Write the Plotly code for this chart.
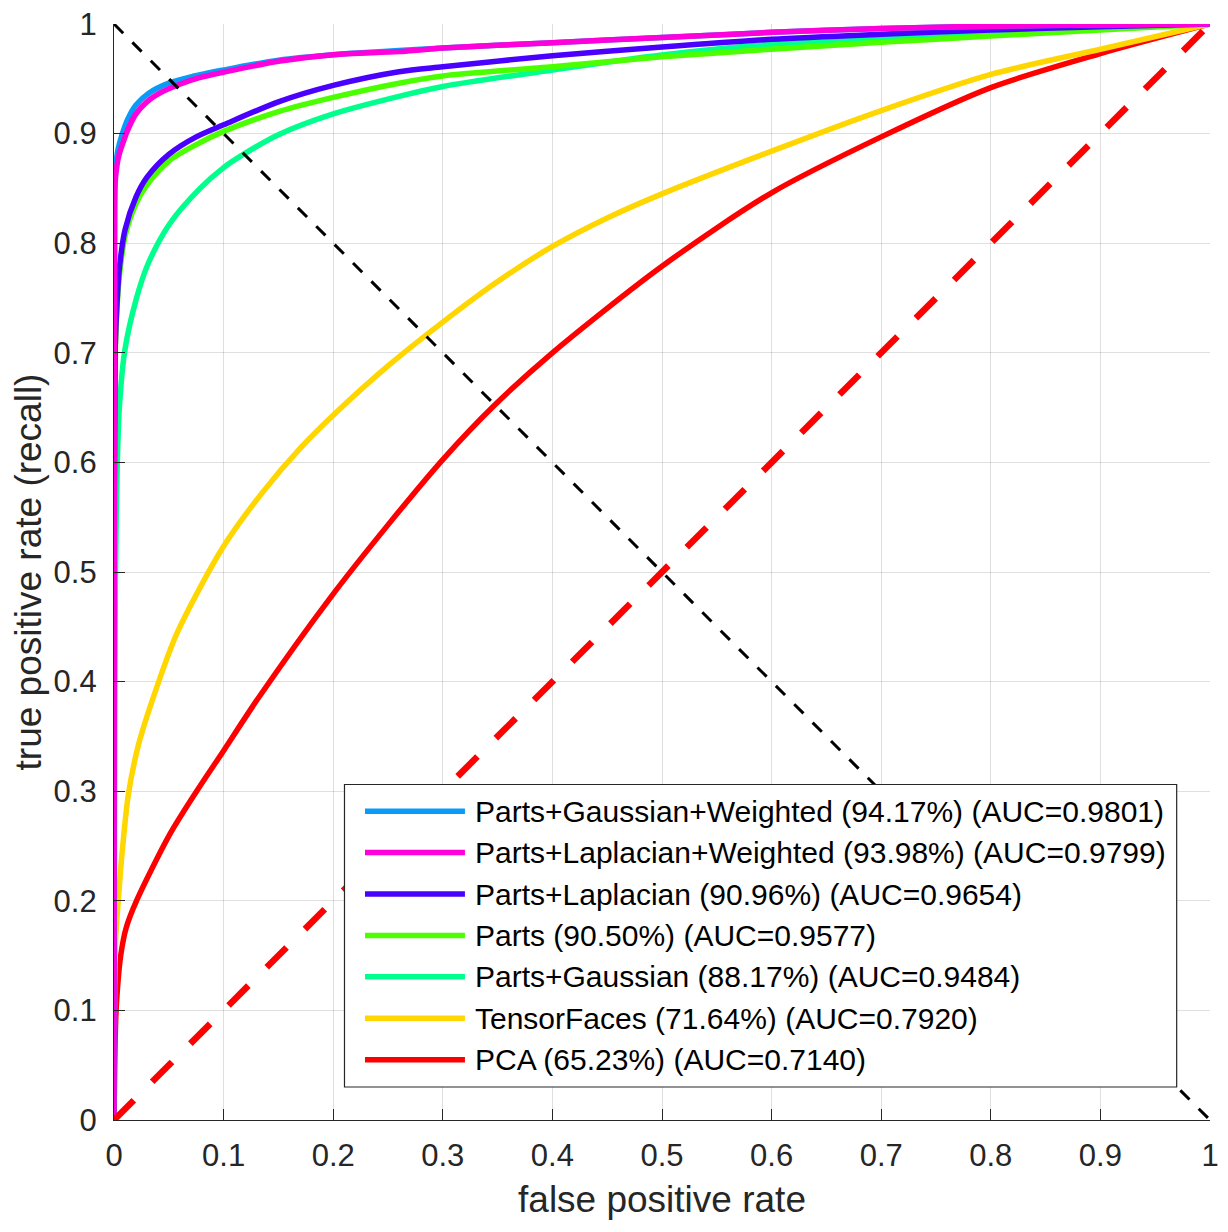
import plotly.graph_objects as go

# ---------------- data ----------------
tick_vals = [0, 0.1, 0.2, 0.3, 0.4, 0.5, 0.6, 0.7, 0.8, 0.9, 1]
tick_text = ["0", "0.1", "0.2", "0.3", "0.4", "0.5", "0.6", "0.7", "0.8", "0.9", "1"]

names = [
    "Parts+Gaussian+Weighted (94.17%) (AUC=0.9801)",
    "Parts+Laplacian+Weighted (93.98%) (AUC=0.9799)",
    "Parts+Laplacian (90.96%) (AUC=0.9654)",
    "Parts (90.50%) (AUC=0.9577)",
    "Parts+Gaussian (88.17%) (AUC=0.9484)",
    "TensorFaces (71.64%) (AUC=0.7920)",
    "PCA (65.23%) (AUC=0.7140)",
]
colors = ["#0A9AF7", "#FF00DC", "#4A00FF", "#4CFF00", "#00FF8C", "#FFD600", "#FF0000"]

fpr_pgw = [0, 0.0002, 0.0005, 0.001, 0.003, 0.005, 0.01, 0.015, 0.02, 0.032, 0.05, 0.071, 0.1, 0.15, 0.2,
           0.3, 0.4, 0.5, 0.6, 0.7, 0.8, 0.9, 1.0]
tpr_pgw = [0, 0.55, 0.82, 0.86, 0.882, 0.891, 0.907, 0.918, 0.926, 0.937, 0.946, 0.952, 0.958, 0.967, 0.972,
           0.978, 0.983, 0.9876, 0.9924, 0.996, 0.998, 0.999, 1.0]

fpr_plw = [0, 0.0002, 0.0005, 0.001, 0.003, 0.005, 0.008, 0.012, 0.02, 0.03, 0.04, 0.06, 0.078, 0.1, 0.15,
           0.2, 0.26, 0.3, 0.4, 0.5, 0.6, 0.7, 0.8, 0.9, 1.0]
tpr_plw = [0, 0.5, 0.8, 0.855, 0.873, 0.882, 0.891, 0.902, 0.918, 0.929, 0.936, 0.945, 0.951, 0.956, 0.966,
           0.972, 0.9748, 0.978, 0.983, 0.9876, 0.9924, 0.996, 0.998, 0.999, 1.0]

fpr_pl = [0, 0.0003, 0.001, 0.002, 0.003, 0.005, 0.01, 0.02, 0.03, 0.05, 0.075, 0.1, 0.15, 0.2, 0.26,
          0.3, 0.4, 0.5, 0.6, 0.7, 0.8, 0.9, 1.0]
tpr_pl = [0, 0.5, 0.7, 0.73, 0.75, 0.778, 0.812, 0.842, 0.86, 0.881, 0.897, 0.908, 0.929, 0.944, 0.9565,
          0.961, 0.971, 0.979, 0.986, 0.9906, 0.9945, 0.9976, 1.0]

fpr_p = [0, 0.0003, 0.001, 0.002, 0.003, 0.005, 0.01, 0.02, 0.03, 0.05, 0.075, 0.1, 0.15, 0.2, 0.26,
         0.3, 0.4, 0.5, 0.6, 0.7, 0.8, 0.9, 1.0]
tpr_p = [0, 0.5, 0.69, 0.725, 0.745, 0.771, 0.806, 0.836, 0.853, 0.875, 0.89, 0.902, 0.92, 0.933, 0.946,
         0.9526, 0.961, 0.97, 0.977, 0.9833, 0.989, 0.9945, 1.0]

fpr_pg = [0, 0.0005, 0.001, 0.002, 0.003, 0.005, 0.01, 0.02, 0.031, 0.051, 0.0785, 0.1, 0.118, 0.15, 0.2,
          0.26, 0.3, 0.4, 0.5, 0.6, 0.7, 0.8, 0.9, 1.0]
tpr_pg = [0, 0.3, 0.45, 0.55, 0.6, 0.652, 0.703, 0.748, 0.781, 0.818, 0.85, 0.869, 0.881, 0.899, 0.918,
          0.934, 0.943, 0.958, 0.9717, 0.9815, 0.987, 0.992, 0.996, 1.0]

fpr_tf = [0, 0.0005, 0.0015, 0.0039, 0.0075, 0.0131, 0.022, 0.035, 0.0572, 0.0997, 0.135, 0.17, 0.2, 0.25,
          0.3, 0.35, 0.4, 0.45, 0.5, 0.6, 0.7, 0.8, 0.9, 1.0]
tpr_tf = [0, 0.12, 0.165, 0.2, 0.245, 0.297, 0.341, 0.383, 0.4436, 0.523, 0.572, 0.613, 0.643, 0.688,
          0.728, 0.765, 0.797, 0.823, 0.845, 0.884, 0.921, 0.954, 0.977, 1.0]

fpr_pca = [0, 0.0015, 0.003, 0.0061, 0.011, 0.0207, 0.0511, 0.0754, 0.1, 0.1317, 0.197, 0.25, 0.3, 0.346,
           0.4, 0.5, 0.6, 0.7, 0.8, 0.9, 1.0]
tpr_pca = [0, 0.09, 0.118, 0.15, 0.175, 0.2003, 0.261, 0.300, 0.337, 0.385, 0.476, 0.543, 0.6026, 0.651,
           0.7, 0.779, 0.846, 0.897, 0.942, 0.973, 1.0]

chance_x = [0, 1]
chance_y = [0, 1]
eer_x = [0, 1]
eer_y = [1, 0]

series = [
    (fpr_pgw, tpr_pgw), (fpr_plw, tpr_plw), (fpr_pl, tpr_pl), (fpr_p, tpr_p),
    (fpr_pg, tpr_pg), (fpr_tf, tpr_tf), (fpr_pca, tpr_pca),
]

# ---------------- figure ----------------
FONT = "Liberation Sans, Arial, Helvetica, sans-serif"
AX = "#262626"
LW = 5.5

fig = go.Figure()

# drawing order: bottom -> top (magenta drawn over blue, purple over green)
draw_order = [6, 5, 4, 3, 2, 0, 1]
for i in draw_order:
    fx, ty = series[i]
    fig.add_trace(go.Scatter(x=fx, y=ty, mode="lines", name=names[i],
                             line=dict(color=colors[i], width=LW, shape="spline", smoothing=0.8),
                             showlegend=False, hoverinfo="skip"))

fig.add_trace(go.Scatter(x=chance_x, y=chance_y, mode="lines", showlegend=False,
                         line=dict(color="#FF0000", width=6.5, dash="28px,26px"), hoverinfo="skip"))
fig.add_trace(go.Scatter(x=eer_x, y=eer_y, mode="lines", showlegend=False,
                         line=dict(color="#000000", width=3, dash="13px,13px"), hoverinfo="skip"))

# ---------------- legend box (MATLAB style, long line samples) ----------------
box_x0, box_x1 = 0.2103, 0.9696
box_y0, box_y1 = 0.0301, 0.3061
row0, pitch = 0.2818, 0.0378
samp_x0, samp_x1, text_x = 0.2290, 0.3202, 0.3280

shapes = [dict(type="rect", xref="paper", yref="paper", x0=box_x0, x1=box_x1, y0=box_y0, y1=box_y1,
               fillcolor="white", line=dict(color=AX, width=1.2), layer="above")]
annotations = []
for k, (nm, c) in enumerate(zip(names, colors)):
    yy = row0 - k * pitch
    shapes.append(dict(type="line", xref="paper", yref="paper", x0=samp_x0, x1=samp_x1, y0=yy, y1=yy,
                       line=dict(color=c, width=LW), layer="above"))
    annotations.append(dict(xref="paper", yref="paper", x=text_x, y=yy, text=nm, showarrow=False,
                            xanchor="left", yanchor="middle", font=dict(family=FONT, size=30, color="#000000")))

axis_common = dict(
    range=[0, 1], tickvals=tick_vals, ticktext=tick_text,
    showgrid=True, gridcolor="rgba(38,38,38,0.15)", gridwidth=1,
    showline=True, linecolor=AX, linewidth=1.2, mirror=False,
    ticks="inside", ticklen=11, tickwidth=1.2, tickcolor=AX,
    tickfont=dict(family=FONT, size=31, color=AX), ticklabeloverflow="allow",
    zeroline=False, fixedrange=True,
)

# the page body has an 8px margin; the figure is sized so the plot area lands
# at the reference position inside the 1228x1232 window
fig.update_layout(
    width=1212, height=1216,
    margin=dict(l=106, r=10, t=16, b=104, autoexpand=False),
    paper_bgcolor="white", plot_bgcolor="white",
    font=dict(family=FONT, color=AX),
    xaxis=dict(**axis_common, ticklabelstandoff=8,
               title=dict(text="false positive rate", standoff=13,
                          font=dict(family=FONT, size=37, color=AX))),
    yaxis=dict(**axis_common, ticklabelstandoff=10,
               title=dict(text="true positive rate (recall)", standoff=4,
                          font=dict(family=FONT, size=37, color=AX))),
    shapes=shapes, annotations=annotations,
    showlegend=False,
)

fig.write_html("out.html")
